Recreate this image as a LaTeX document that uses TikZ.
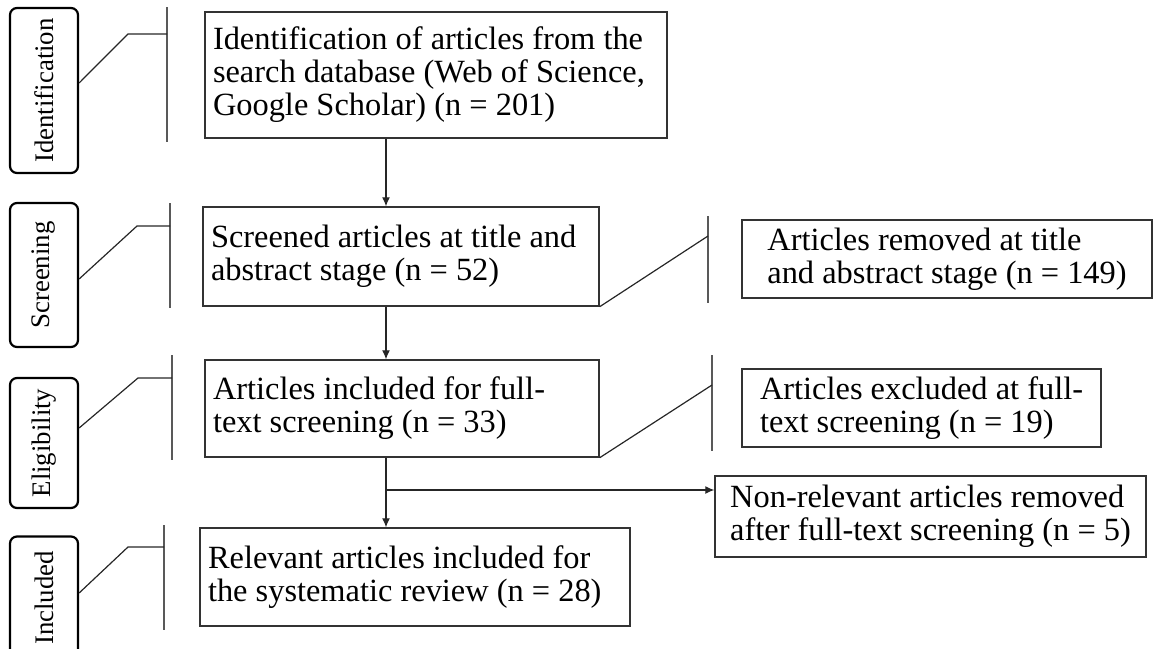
\documentclass[tikz,border=0pt]{standalone}
\usepackage{fontspec}
\setmainfont{Liberation Serif}
\usetikzlibrary{arrows.meta}
\tikzset{
    stage/.style={draw, line width=1.1pt, rounded corners=3.5pt, rotate=90, minimum height=34pt, inner sep=0pt, font=\fontsize{13.4}{14}\selectfont},
    mainbox/.style={draw=black!80, line width=0.7pt, align=flush left, inner xsep=4pt, inner ysep=0pt, font=\fontsize{16.2}{16.5}\selectfont},
    sidebox/.style={mainbox, inner xsep=0pt},
    bar/.style={draw=black!65, line width=1pt},
    link/.style={draw=black!85, line width=0.6pt}
}
\begin{document}
\begin{tikzpicture}[x=0.5pt, y=-0.5pt, >={Latex[length=4.5pt,width=4pt]}]
\useasboundingbox (0,0) rectangle (1154,648);
\clip (0,0) rectangle (1154,648);

\foreach \n/\yc/\h/\t in {stI/90.5/165/Identification, stS/275/144/Screening, stE/443/130/Eligibility, stN/598/123/Included}
{
    \node[stage, minimum width=\h*0.5pt] (\n) at (44,\yc) {\t};
}
\foreach \n/\ey/\vx/\ya/\yb/\hx/\hy in {stI/83/167/7/142/128/34, stS/279/170/203/308/137/226, stE/428/172/355/460/138/378, stN/593/164/525/630/128/547}
{
    \draw[bar] (\vx,\ya) -- (\vx,\yb);
    \draw[link] (\n.south |- 0,\ey) -- (\hx,\hy) -- (\vx,\hy);
}

\node[mainbox, text width=223pt, minimum height=63pt] (b1) at (436,75) {Identification of articles from the\\search database (Web of Science,\\Google Scholar) (n = 201)};
\node[mainbox, text width=190pt, minimum height=49.5pt] (b2) at (401,256.5) {Screened articles at title and\\abstract stage (n = 52)};
\node[mainbox, text width=189pt, minimum height=48.5pt] (b3) at (402,408.5) {Articles included for full-\\text screening (n = 33)};
\node[mainbox, text width=207pt, minimum height=49pt] (b4) at (415,577) {Relevant articles included for\\the systematic review (n = 28)};

\node[sidebox, minimum width=205pt, minimum height=39pt] (r1) at (947,259) {Articles removed at title\\and abstract stage (n = 149)};
\node[sidebox, minimum width=179.5pt, minimum height=39pt] (r2) at (921.5,408) {Articles excluded at full-\\text screening (n = 19)};
\node[sidebox, minimum width=215.5pt, minimum height=40.5pt] (r3) at (930.5,516.5) {Non-relevant articles removed\\after full-text screening (n = 5)};

\foreach \b/\vx/\ya/\yb/\hy in {b2/708/216/303/236, b3/712/355/451/385}
{
    \draw[bar] (\vx,\ya) -- (\vx,\yb);
    \draw[link] (\b.south east) -- (\vx,\hy);
}

\coordinate (ax) at (386,0);
\coordinate (br) at (386,490);
\draw[link, ->] (b1.south -| ax) -- (b2.north -| ax);
\draw[link, ->] (b2.south -| ax) -- (b3.north -| ax);
\draw[link, ->] (b3.south -| ax) -- (b4.north -| ax);
\draw[link, ->] (br) -- (br -| r3.west);

\end{tikzpicture}
\end{document}
